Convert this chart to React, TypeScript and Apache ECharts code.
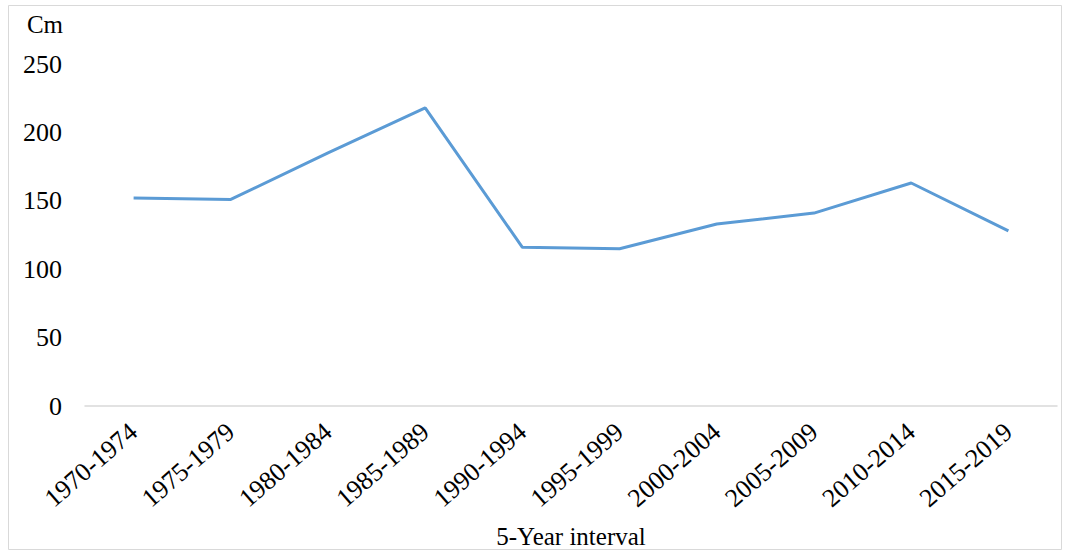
import React, { useEffect, useRef } from "react";
import * as echarts from "echarts";

const categories = [
  "1970-1974", "1975-1979", "1980-1984", "1985-1989", "1990-1994",
  "1995-1999", "2000-2004", "2005-2009", "2010-2014", "2015-2019",
];
const values = [152, 151, 185, 218, 116, 115, 133, 141, 163, 128];
const yAxisName = "Cm";
const xAxisName = "5-Year interval";

const FONT = "Liberation Serif";

export default function App() {
  const ref = useRef<HTMLDivElement>(null);
  useEffect(() => {
    if (!ref.current) return;
    const chart = echarts.init(ref.current, undefined, { renderer: "svg" });
    chart.setOption({
      animation: false,
      backgroundColor: "#ffffff",
      grid: {
        left: 85,
        right: 8,
        top: 64,
        bottom: 147,
        containLabel: false,
        outerBoundsMode: "none",
      },
      graphic: [
        {
          type: "rect",
          shape: { x: 8.5, y: 5.5, width: 1053, height: 544 },
          style: { fill: "none", stroke: "#d9d9d9", lineWidth: 1 },
          silent: true,
        },
      ],
      xAxis: {
        type: "category",
        data: categories,
        boundaryGap: true,
        name: xAxisName,
        nameLocation: "middle",
        nameGap: 118,
        nameTextStyle: { fontFamily: FONT, fontSize: 25, color: "#000" },
        axisLine: { show: true, lineStyle: { color: "#d9d9d9", width: 1.5 } },
        axisTick: { show: false },
        axisLabel: {
          rotate: 41,
          margin: 22,
          fontFamily: FONT,
          fontSize: 26,
          color: "#000",
          interval: 0,
        },
        splitLine: { show: false },
      },
      yAxis: {
        type: "value",
        min: 0,
        max: 250,
        interval: 50,
        name: yAxisName,
        nameLocation: "end",
        nameGap: 40,
        nameTextStyle: {
          fontFamily: FONT,
          fontSize: 25,
          color: "#000",
          align: "right",
          verticalAlign: "middle",
          padding: [0, 22, 0, 0],
        },
        axisLine: { show: false },
        axisTick: { show: false },
        splitLine: { show: false },
        axisLabel: {
          margin: 23,
          fontFamily: FONT,
          fontSize: 26,
          color: "#000",
        },
      },
      series: [
        {
          type: "line",
          data: values,
          symbol: "none",
          lineStyle: { color: "#5B9BD5", width: 3 },
          itemStyle: { color: "#5B9BD5" },
        },
      ],
    });
    return () => chart.dispose();
  }, []);
  return (
    <div
      ref={ref}
      style={{ position: "absolute", left: 0, top: 0, width: 1065, height: 553 }}
    />
  );
}
